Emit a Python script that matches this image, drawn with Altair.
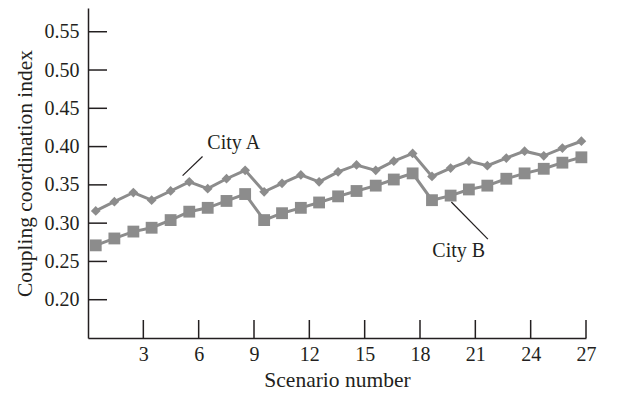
import altair as alt
import pandas as pd

scenario = [0.42, 1.43, 2.46, 3.45, 4.48, 5.49, 6.49, 7.51, 8.52, 9.55, 10.52, 11.54, 12.53, 13.56,
            14.56, 15.6, 16.58, 17.6, 18.65, 19.66, 20.65, 21.65, 22.68, 23.67, 24.71, 25.72, 26.75]
city_a = [0.316, 0.328, 0.340, 0.330, 0.342, 0.354, 0.345, 0.358, 0.369, 0.341, 0.352, 0.363, 0.354, 0.367,
          0.376, 0.369, 0.381, 0.391, 0.361, 0.372, 0.381, 0.375, 0.385, 0.394, 0.388, 0.398, 0.407]
city_b = [0.271, 0.280, 0.289, 0.294, 0.304, 0.315, 0.320, 0.329, 0.338, 0.304, 0.313, 0.320, 0.327, 0.335,
          0.342, 0.349, 0.357, 0.365, 0.330, 0.336, 0.344, 0.349, 0.358, 0.365, 0.371, 0.379, 0.386]
series_names = ["City A", "City B"]

x_ticks = [3, 6, 9, 12, 15, 18, 21, 24, 27]
y_ticks = [0.20, 0.25, 0.30, 0.35, 0.40, 0.45, 0.50, 0.55]

label_text = ["City A", "City B"]
label_x = [7.9, 20.1]
label_y = [0.405, 0.263]
leader_x = [5.13, 19.7]
leader_y = [0.362, 0.3276]
leader_x2 = [6.21, 21.68]
leader_y2 = [0.387, 0.2792]

rows = []
for name, vals in zip(series_names, [city_a, city_b]):
    for s, v in zip(scenario, vals):
        rows.append({"scenario": s, "value": v, "city": name})
df = pd.DataFrame(rows)

FONT = "Liberation Serif"
GRAY = "#8c8c8c"
INK = "#231f20"

xscale = alt.Scale(domain=[0, 27], nice=False, zero=False)
yscale = alt.Scale(domain=[0.15, 0.581], nice=False, zero=False)

xenc = alt.X("scenario:Q", scale=xscale,
             axis=alt.Axis(values=x_ticks, title="Scenario number", ticks=False, grid=False,
                           labelFont=FONT, labelFontSize=20, labelColor=INK, labelPadding=6,
                           titleFont=FONT, titleFontSize=21.5, titleFontWeight="normal",
                           titleColor=INK, titlePadding=5, domainColor=INK, domainWidth=1.5,
                           labelFlush=False))
yenc = alt.Y("value:Q", scale=yscale,
             axis=alt.Axis(values=y_ticks, format=".2f", title="Coupling coordination index",
                           ticks=False, grid=False,
                           labelFont=FONT, labelFontSize=20, labelColor=INK, labelPadding=9,
                           titleFont=FONT, titleFontSize=21.5, titleFontWeight="normal",
                           titleColor=INK, titlePadding=8, domainColor=INK, domainWidth=1.5))

lines = alt.Chart(df).mark_line(color=GRAY, strokeWidth=3).encode(
    x=xenc, y=yenc, detail="city:N")

points = alt.Chart(df).mark_point(filled=True, color=GRAY, opacity=1).encode(
    x="scenario:Q", y="value:Q",
    shape=alt.Shape("city:N", scale=alt.Scale(domain=series_names, range=["diamond", "square"]),
                    legend=None),
    size=alt.Size("city:N", scale=alt.Scale(domain=series_names, range=[95, 140]), legend=None))

xt = pd.DataFrame({"t": x_ticks})
xtick_layer = alt.Chart(xt).mark_rule(color=INK, strokeWidth=1.5).encode(
    x=alt.X("t:Q", scale=xscale), y=alt.value(312), y2=alt.value(330))

yt = pd.DataFrame({"t": y_ticks})
ytick_layer = alt.Chart(yt).mark_rule(color=INK, strokeWidth=1.5).encode(
    y=alt.Y("t:Q", scale=yscale), x=alt.value(0), x2=alt.value(19))

ann = pd.DataFrame({"label": label_text, "x": label_x, "y": label_y})
texts = alt.Chart(ann).mark_text(font=FONT, fontSize=20, color=INK, align="center",
                                 baseline="middle").encode(
    x=alt.X("x:Q", scale=xscale), y=alt.Y("y:Q", scale=yscale), text="label:N")

lead = pd.DataFrame({"x": leader_x, "y": leader_y, "x2": leader_x2, "y2": leader_y2})
leaders = alt.Chart(lead).mark_rule(color=INK, strokeWidth=1.2).encode(
    x=alt.X("x:Q", scale=xscale), y=alt.Y("y:Q", scale=yscale), x2="x2:Q", y2="y2:Q")

chart = alt.layer(lines, points, xtick_layer, ytick_layer, leaders, texts).properties(
    width=498, height=330,
    autosize=alt.AutoSizeParams(type="none"),
    padding={"left": 80, "top": 0, "right": 20, "bottom": 56},
).configure_view(stroke=None).configure_axisX(domain=True).configure_axisY(domain=True)

chart.save("out.html", embed_options={"renderer": "svg", "actions": False})
